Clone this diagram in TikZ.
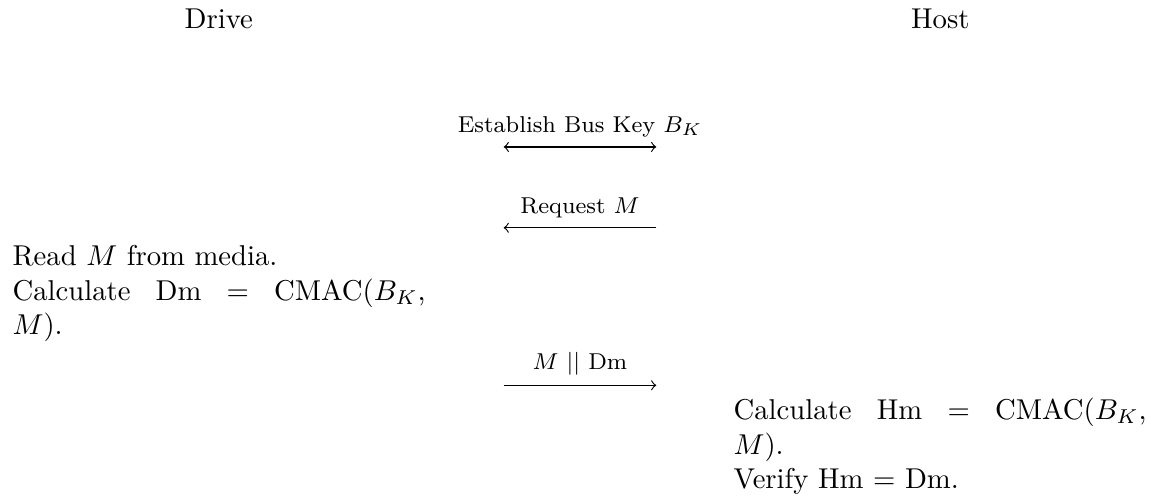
\documentclass[tikz,border=0pt]{standalone}
\usepackage{amsmath}
\usepackage{amssymb}
\usetikzlibrary{arrows}
\tikzstyle{msg} = [->]
\tikzstyle{label} = [font=\footnotesize, above]
\tikzstyle{action} = [anchor=north west, inner sep=0pt, align=justify, text width=5.06cm]

\begin{document}
\begin{tikzpicture}
        \useasboundingbox (0,0) rectangle (14.10,-6.10);
        % Parties
        \node (drive) at (2.68,-0.35) [anchor=base] {Drive};
        \node (host) at (11.52,-0.35) [anchor=base] {Host};
        % Message ends
        \coordinate (keyL) at (6.17,-1.80);
        \coordinate (keyR) at (8.04,-1.80);
        \coordinate (reqL) at (6.17,-2.79);
        \coordinate (reqR) at (8.04,-2.79);
        \coordinate (repL) at (6.17,-4.72);
        \coordinate (repR) at (8.04,-4.72);
        % Messages
        \draw [msg, <->] (keyL) -- (keyR) node [label, midway] {Establish Bus Key $B_K$};
        \draw [msg] (reqR) -- (reqL) node [label, midway] {Request $M$};
        \draw [msg] (repL) -- (repR) node [label, midway] {$M$ $||$ Dm};
        % Actions
        \node (driveact) at (0.147,-3.00) [action] {Read $M$ from media.\\ Calculate Dm $=$ CMAC($B_K$, $M$).};
        \node (hostact) at (8.98,-4.87) [action] {Calculate Hm $=$ CMAC($B_K$, $M$).\\ Verify Hm $=$ Dm.};
\end{tikzpicture}
\end{document}
